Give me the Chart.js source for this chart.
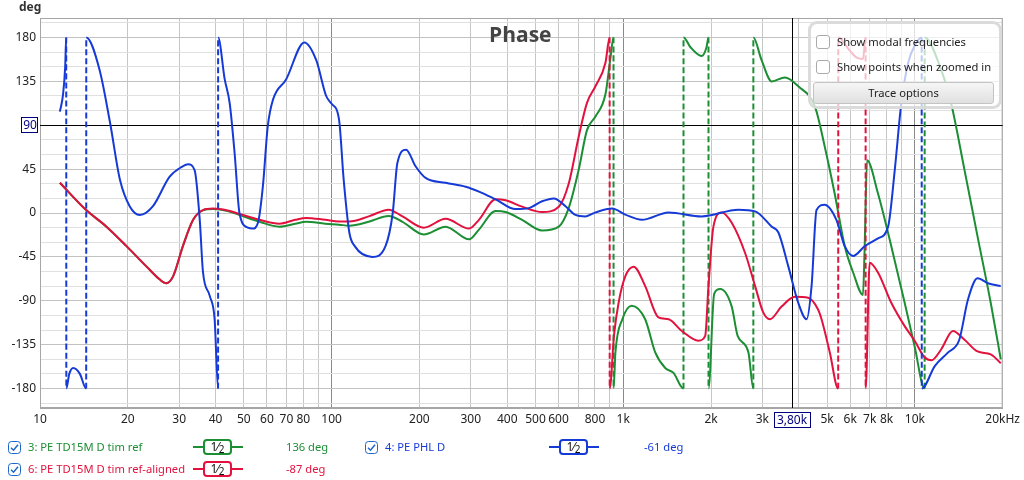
<!DOCTYPE html>
<html>
<head>
<meta charset="utf-8">
<script src="https://cdn.jsdelivr.net/npm/chart.js@4.4.0/dist/chart.umd.min.js"></script>
<style>
body{margin:0;background:#fff;font-family:"Noto Sans",sans-serif;}
#wrap{position:relative;width:1024px;height:480px;overflow:hidden;}
#c{position:absolute;left:0;top:0;}
.abs{position:absolute;white-space:nowrap;font-size:11.2px;line-height:14px;}
.cb{position:absolute;width:13px;height:13px;}
.sym{position:absolute;height:16px;}
.sym .ln{position:absolute;left:0;right:0;top:7px;height:2px;}
.sym .bx{position:absolute;top:0;left:10px;width:25px;height:12px;background:#fff;border:2px solid;border-radius:4px;font-size:12px;line-height:12px;text-align:center;color:#111;}
#panel{position:absolute;left:808px;top:21px;width:188px;height:82px;border:3px solid rgba(215,215,215,0.9);border-radius:9px;background:rgba(255,255,255,0.72);}
#btn{position:absolute;left:813px;top:82px;width:179px;height:20px;border:1px solid #c4c4c4;border-radius:3px;background:linear-gradient(#f6f6f6,#e0e0e0);font-size:11.2px;line-height:20px;text-align:center;color:#222;}
.pcb{position:absolute;width:12px;height:12px;border:1px solid #aaa;border-radius:3px;background:#fff;}
</style>
</head>
<body>
<div id="wrap">
<canvas id="c" width="1024" height="480"></canvas>
<div class="abs" style="left:19px;top:0px;font-weight:bold;font-size:12px;color:#333;">deg</div>
<div class="abs" style="left:489px;top:20px;font-family:'Open Sans';font-weight:bold;font-size:21px;line-height:28px;color:#444;">Phase</div>

<div id="panel"></div>
<div class="pcb" style="left:816px;top:35px;"></div>
<div class="abs" style="left:837px;top:35px;color:#222;">Show modal frequencies</div>
<div class="pcb" style="left:816px;top:60px;"></div>
<div class="abs" style="left:837px;top:60px;color:#222;">Show points when zoomed in</div>
<div id="btn">Trace options</div>

<div id="legend"></div>
</div>

<script>
// phase traces (Hz, degrees); pairs of 180/-180 are wraps
var greenName = '3: PE TD15M D tim ref';
var greenFreq = [11.7,14.4,16.9,19.8,23.2,25.7,27.1,28.6,30.9,33.5,36.2,39.2,44,48.3,56.6,66.2,75,81.7,95,106,115,134,157,175,207,246,296,320,365,395,450,527,601,650,703,751,803,869,903,926,926.5,940,993,1069,1189,1287,1393,1487,1609,1609.5,1700,1857,1930,1960,1960.5,2050,2150,2355,2468,2687,2793,2793.5,2979,3230,3583,3981,4543,4909,5308,5748,6142,6637,6720,6856,7473,8300,9226,9982,10800,10805,12300,13300,14800,16400,18200,19700];
var greenDeg  = [31,3,-14,-34,-55,-68,-72,-65,-34,-7,2.7,4,2,-2,-9,-14,-11,-9,-11,-12,-13,-9,-3,-9,-22,-14,-27,-17,2,1,-7,-18,-14,5,44,85,99,122,158,180,-180,-143,-109,-95,-109,-143,-159,-164,-180,180,170,161,170,180,-180,-83,-78,-96,-126,-143,-180,180,157,135,139,130,109,68,20,-34,-61,-84,-40,54,20,-34,-92,-137,-180,180,147,113,44,-24,-92,-150];

var redName = '6: PE TD15M D tim ref-aligned';
var redFreq = [11.7,14.4,16.9,19.8,23.2,25.7,27.1,28.6,30.9,33.5,36.2,39.2,44,48.3,56.6,66.2,75,81.7,95,106,115,134,157,175,207,246,296,320,365,395,450,527,601,650,703,751,803,869,898,898.5,930,964,1016,1086,1189,1320,1430,1588,1811,1910,1960,2038,2176,2355,2617,2833,3020,3183,3490,3876,4304,4656,4786,5109,5458,5462,6000,6350,6640,6776,6780,6998,7473,8300,9226,9982,10800,11400,12300,13500,14800,16400,18200,19700];
var redDeg  = [31,3,-14,-34,-55,-68,-72,-65,-34,-7,3,4.5,2.5,-1,-7,-11,-7,-5,-7,-8.7,-8.7,-3.5,3.4,-3.5,-15,-6,-16,-7,14,13,6.5,1,6.5,30,78,113,130,154,180,-180,-125,-92,-65,-55,-75,-107,-109,-121,-131,-126,-75,-14,0.6,-10,-41,-75,-102,-109,-96,-86,-87,-99,-109,-143,-180,180,166,159,158,180,-180,-51,-61,-92,-116,-131,-148,-151,-140,-121,-130,-142,-145,-154];

var blueName = '4: PE PHL D';
var blueFreq = [11.7,12.0,12.2,12.3,12.31,12.6,13.0,13.7,14.4,14.41,16.0,17.4,18.8,20.3,22.0,24.4,27.8,30.5,32.2,33.9,35.3,36.2,38.2,39.7,40.8,40.81,43.0,44.7,46.5,48.3,51.6,53.6,55.9,58.1,60.4,62.9,69.8,80.6,88.5,95.8,100,106,110,115,120,138,153,162,168,180,194,210,246,288,320,365,427,474,527,578,634,686,742,803,916,1016,1159,1430,1857,2483,2833,3230,3404,3683,3981,4252,4423,4600,4909,5381,5748,6142,6733,7473,8094,8531,8986,9500,10000,10550,10560,11700,13000,14200,15200,16400,17800,19700];
var blueDeg  = [104,122,150,180,-180,-165,-159,-165,-180,180,147,92,34,7,-2,7,37,47,50,44,-7,-60,-85,-109,-180,180,137,113,61,0,-15,-16,-10,27,89,116,137,175,157,120,112,96,34,-20,-34,-45,-34,0,51,65,48,36,31,27,22,14,4,5,12,15,7,-2,-3.5,0.6,4.5,-1.7,-7,0.6,-3.5,3.4,1.7,-14,-20,-55,-92,-109,-75,3,8.5,-7,-34,-44,-34,-26,-14,44,113,155,172,180,-180,-157,-143,-130,-89,-67,-72,-75];

// readouts shown in the legend
var greenReadout = '136 deg';
var redReadout = '-87 deg';
var blueReadout = '-61 deg';

// axis ticks
var xGridValues = [10,20,30,40,50,60,70,80,90,100,200,300,400,500,600,700,800,900,1000,2000,3000,4000,5000,6000,7000,8000,9000,10000,20000];
var xLabelValues = [10,20,30,40,50,60,70,80,100,200,300,400,500,600,800,1000,2000,3000,5000,6000,7000,8000,10000,20000];
var xLabelTexts = ['10','20','30','40','50','60','70','80','100','200','300','400','500','600','800','1k','2k','3k','5k','6k','7k','8k','10k','20kHz'];
var yLabelValues = [-180,-135,-90,-45,0,45,135,180];
var yGridStep = 15;

// cursor
var cursorFreq = 3800;
var cursorDeg = 90;
var cursorFreqText = '3,80k';

var GREEN = 'rgb(28,142,52)', RED = 'rgb(226,18,62)', BLUE = 'rgb(22,58,214)';

function pts(f, d) {
    return f.map(function(v, i) { return {x: v, y: d[i]}; });
}
function wrapDash(ctx) {
    return Math.abs(ctx.p1.parsed.y - ctx.p0.parsed.y) > 300 ? [6, 3] : undefined;
}

var cursorPlugin = {
    id: 'cursor',
    beforeDatasetsDraw: function(chart) {
        var c = chart.ctx, a = chart.chartArea;
        var cx = Math.round(chart.scales.x.getPixelForValue(cursorFreq)) + 0.5;
        var cy = Math.round(chart.scales.y.getPixelForValue(cursorDeg)) + 0.5;
        c.save();
        c.strokeStyle = '#a6a6a6';
        c.lineWidth = 1;
        c.strokeRect(a.left + 0.5, a.top + 0.5, a.width - 1, a.height - 1);
        c.strokeStyle = '#000';
        c.beginPath();
        c.moveTo(cx, a.top); c.lineTo(cx, a.bottom);
        c.moveTo(a.left, cy); c.lineTo(a.right, cy);
        c.stroke();
        c.restore();
    },
    afterDraw: function(chart) {
        var c = chart.ctx, a = chart.chartArea;
        var cx = Math.round(chart.scales.x.getPixelForValue(cursorFreq));
        var cy = Math.round(chart.scales.y.getPixelForValue(cursorDeg));
        c.save();
        c.font = '12px "Noto Sans"';
        c.textAlign = 'center';
        c.textBaseline = 'middle';
        // y box
        c.fillStyle = '#fff';
        c.fillRect(21, cy - 8, 17, 16);
        c.strokeStyle = '#000080';
        c.strokeRect(21.5, cy - 7.5, 16, 15);
        c.fillStyle = '#000080';
        c.fillText(String(cursorDeg), 30, cy + 0.5);
        // x box
        var w = c.measureText(cursorFreqText).width + 6;
        c.fillStyle = '#fff';
        c.fillRect(cx - w / 2, a.bottom + 4, w, 16);
        c.strokeRect(Math.round(cx - w / 2) + 0.5, a.bottom + 4.5, Math.round(w), 15);
        c.fillStyle = '#000080';
        c.fillText(cursorFreqText, cx, a.bottom + 12.5);
        c.restore();
    }
};

var ctx = document.getElementById('c').getContext('2d');
var chart = new Chart(ctx, {
    type: 'line',
    data: {
        datasets: [{
            label: blueName,
            data: pts(blueFreq, blueDeg),
            borderColor: BLUE,
            segment: {borderDash: wrapDash}
        }, {
            label: redName,
            data: pts(redFreq, redDeg),
            borderColor: RED,
            segment: {borderDash: wrapDash}
        }, {
            label: greenName,
            data: pts(greenFreq, greenDeg),
            borderColor: GREEN,
            segment: {borderDash: wrapDash}
        }]
    },
    options: {
        responsive: false,
        animation: false,
        layout: {padding: {top: 18, right: 20, bottom: 47, left: 0}},
        elements: {
            point: {radius: 0},
            line: {borderWidth: 2, cubicInterpolationMode: 'monotone', fill: false}
        },
        plugins: {legend: {display: false}, tooltip: {enabled: false}, title: {display: false}},
        scales: {
            x: {
                type: 'logarithmic',
                min: 10, max: 20000,
                afterFit: function(s) { s.height = 25; },
                afterBuildTicks: function(s) {
                    s.ticks = xGridValues.map(function(v) { return {value: v}; });
                },
                ticks: {
                    autoSkip: false, maxRotation: 0, minRotation: 0, padding: 4,
                    color: '#222', font: {family: 'Noto Sans', size: 12},
                    callback: function(v) {
                        var i = xLabelValues.indexOf(v);
                        return i < 0 ? '' : xLabelTexts[i];
                    }
                },
                grid: {
                    drawTicks: false,
                    color: function(c) {
                        var v = c.tick && c.tick.value;
                        return (v === 100 || v === 1000 || v === 10000) ? '#8a8a8a' : '#c6c6c6';
                    }
                },
                border: {color: '#a6a6a6'}
            },
            y: {
                min: -200, max: 200,
                afterFit: function(s) { s.width = 40; },
                afterBuildTicks: function(s) {
                    var t = [];
                    for (var v = -195; v <= 195; v += yGridStep) t.push({value: v});
                    s.ticks = t;
                },
                ticks: {
                    autoSkip: false, padding: 4, color: '#222', font: {family: 'Noto Sans', size: 12},
                    callback: function(v) { return yLabelValues.indexOf(v) < 0 ? '' : String(v); }
                },
                grid: {
                    drawTicks: false,
                    color: function(c) {
                        var v = c.tick && c.tick.value;
                        return v % 45 === 0 ? '#c2c2c2' : '#e0e0e0';
                    }
                },
                border: {color: '#a6a6a6'}
            }
        }
    },
    plugins: [cursorPlugin]
});

// legend under the chart
var check = '<svg class="cb" viewBox="0 0 13 13" style="left:LEFTpx;top:TOPpx"><rect x="0.5" y="0.5" width="12" height="12" rx="3" fill="#fff" stroke="#1f66c9"/><path d="M3 6.8 L5.5 9.2 L10 3.8" fill="none" stroke="#1f66c9" stroke-width="1.5"/></svg>';
function legendItem(left, top, name, color, symLeft, readout, readLeft) {
    var h = check.replace('LEFT', left).replace('TOP', top - 6);
    h += '<div class="abs" style="left:' + (left + 20) + 'px;top:' + (top - 7) + 'px;color:' + color + ';">' + name + '</div>';
    h += '<div class="sym" style="left:' + symLeft + 'px;top:' + (top - 8) + 'px;width:50px;"><div class="ln" style="background:' + color + '"></div>' +
         '<div class="bx" style="border-color:' + color + '">1&#8260;<span style="font-size:10px;position:relative;top:2px">2</span></div></div>';
    h += '<div class="abs" style="left:' + readLeft + 'px;top:' + (top - 7) + 'px;color:' + color + ';">' + readout + '</div>';
    return h;
}
document.getElementById('legend').innerHTML =
    legendItem(8, 447, greenName, GREEN, 193, greenReadout, 286) +
    legendItem(8, 469, redName, RED, 193, redReadout, 286) +
    legendItem(365, 447, blueName, BLUE, 549, blueReadout, 644);
</script>
</body>
</html>
